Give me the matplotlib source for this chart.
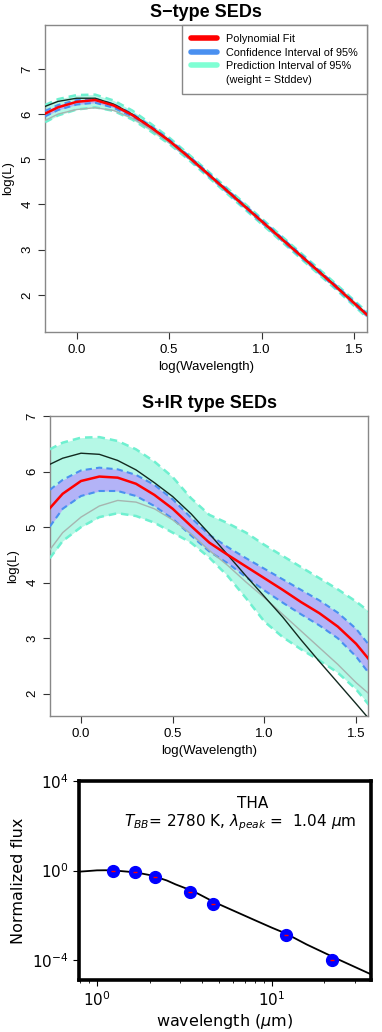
import numpy as np
import matplotlib
matplotlib.use("Agg")
import matplotlib.pyplot as plt
from matplotlib.lines import Line2D

# --- data ---
log_wave = [-0.17, -0.1, 0.0, 0.1, 0.2, 0.3, 0.4, 0.5, 0.6, 0.7, 0.8, 0.9, 1.0,
            1.1, 1.2, 1.3, 1.4, 1.5, 1.57]

# S-type SEDs
s_fit = [6.01, 6.15, 6.27, 6.31, 6.19, 5.98, 5.71, 5.41, 5.07, 4.71, 4.35, 3.99, 3.63,
         3.27, 2.91, 2.55, 2.19, 1.82, 1.56]
s_ci_hi = [6.07, 6.20, 6.31, 6.34, 6.22, 6.01, 5.74, 5.44, 5.10, 4.74, 4.38, 4.02, 3.66,
           3.30, 2.94, 2.58, 2.22, 1.85, 1.59]
s_ci_lo = [5.95, 6.09, 6.21, 6.25, 6.14, 5.94, 5.67, 5.38, 5.04, 4.68, 4.32, 3.96, 3.60,
           3.24, 2.88, 2.52, 2.16, 1.79, 1.53]
s_pi_hi = [6.20, 6.33, 6.42, 6.43, 6.30, 6.08, 5.79, 5.48, 5.13, 4.77, 4.41, 4.05, 3.69,
           3.33, 2.97, 2.61, 2.25, 1.88, 1.62]
s_pi_lo = [5.82, 5.97, 6.10, 6.15, 6.07, 5.88, 5.62, 5.34, 5.01, 4.65, 4.29, 3.93, 3.57,
           3.21, 2.85, 2.49, 2.13, 1.76, 1.50]
s_upper = [6.17, 6.28, 6.35, 6.35, 6.22, 6.00, 5.72, 5.42, 5.08, 4.72, 4.36, 4.00, 3.64,
           3.28, 2.92, 2.56, 2.20, 1.83, 1.57]
s_lower = [5.86, 6.00, 6.10, 6.14, 6.08, 5.91, 5.66, 5.37, 5.04, 4.69, 4.33, 3.97, 3.61,
           3.25, 2.89, 2.53, 2.17, 1.80, 1.54]

# S+IR type SEDs
ir_fit = [5.34, 5.60, 5.83, 5.91, 5.89, 5.78, 5.58, 5.33, 5.02, 4.72, 4.50, 4.29, 4.08,
          3.87, 3.65, 3.45, 3.21, 2.90, 2.62]
ir_ci_hi = [5.67, 5.85, 6.02, 6.07, 6.04, 5.94, 5.76, 5.50, 5.17, 4.86, 4.64, 4.44, 4.25,
            4.06, 3.87, 3.68, 3.46, 3.17, 2.88]
ir_ci_lo = [5.01, 5.33, 5.56, 5.65, 5.65, 5.56, 5.38, 5.15, 4.85, 4.56, 4.35, 4.10, 3.86,
            3.64, 3.43, 3.23, 3.00, 2.67, 2.37]
ir_pi_hi = [6.40, 6.52, 6.61, 6.62, 6.55, 6.40, 6.18, 5.90, 5.52, 5.22, 5.07, 4.90, 4.68,
            4.48, 4.28, 4.08, 3.88, 3.66, 3.48]
ir_pi_lo = [4.44, 4.75, 5.00, 5.18, 5.25, 5.20, 5.08, 4.90, 4.72, 4.45, 4.12, 3.72, 3.30,
            3.02, 2.80, 2.60, 2.38, 2.08, 1.80]
ir_upper = [6.13, 6.24, 6.33, 6.31, 6.20, 6.03, 5.80, 5.55, 5.24, 4.88, 4.50, 4.12, 3.75,
            3.38, 2.97, 2.58, 2.20, 1.82, 1.55]
ir_lower = [4.59, 4.90, 5.18, 5.38, 5.48, 5.45, 5.33, 5.13, 4.88, 4.58, 4.31, 4.01, 3.73,
            3.43, 3.13, 2.83, 2.53, 2.20, 2.00]

# THA photometry + blackbody
tha_wave = [1.235, 1.662, 2.159, 3.4, 4.6, 12.0, 22.0]
tha_flux = [1.0, 0.90, 0.51, 0.113, 0.033, 0.00138, 0.0001]
bb_wave = [0.79, 0.89, 1.0, 1.12, 1.26, 1.41, 1.66, 2.0, 2.19, 2.51, 2.82, 3.55, 4.68,
           6.31, 7.94, 10.0, 12.0, 15.8, 23.4, 36.5]
bb_flux = [0.89, 0.95, 1.02, 1.03, 1.0, 0.93, 0.83, 0.63, 0.51, 0.36, 0.24, 0.12, 0.039,
           0.0138, 0.0062, 0.0028, 0.00155, 0.0005, 0.000117, 0.000024]

RFONT = "Liberation Sans"
PI_FILL = "#b5f8e6"
PI_LINE = "#6ff0d0"
CI_FILL = "#b3b3f7"
CI_LINE = "#4a90f0"


def r_style(ax, title, xlim, ylim):
    ax.set_xlim(*xlim)
    ax.set_ylim(*ylim)
    for s in ax.spines.values():
        s.set_color("#888888")
        s.set_linewidth(1.0)
    ax.set_xticks([0.0, 0.5, 1.0, 1.5])
    ax.set_xticklabels(["0.0", "0.5", "1.0", "1.5"], family=RFONT, fontsize=9.5)
    ax.set_yticks([2, 3, 4, 5, 6, 7])
    ax.set_yticklabels(["2", "3", "4", "5", "6", "7"], family=RFONT, fontsize=9.5,
                       rotation=90, va="center")
    ax.tick_params(direction="out", length=5, width=0.8, color="#333333", pad=3.5)
    ax.set_title(title, family=RFONT, fontsize=13, fontweight="bold", pad=6)
    ax.set_xlabel("log(Wavelength)", family=RFONT, fontsize=9.5, labelpad=4)
    ax.set_ylabel("log(L)", family=RFONT, fontsize=9.5, labelpad=5)


def draw_sed(ax, fit, ci_hi, ci_lo, pi_hi, pi_lo, upper, lower):
    x = np.array(log_wave)
    ax.fill_between(x, pi_lo, pi_hi, color=PI_FILL, lw=0, zorder=1)
    ax.fill_between(x, ci_lo, ci_hi, color=CI_FILL, lw=0, zorder=2)
    ax.plot(x, pi_hi, color=PI_LINE, lw=1.8, ls=(0, (3, 2)), zorder=3)
    ax.plot(x, pi_lo, color=PI_LINE, lw=1.8, ls=(0, (3, 2)), zorder=3)
    ax.plot(x, ci_hi, color=CI_LINE, lw=1.5, ls=(0, (3, 2)), zorder=4)
    ax.plot(x, ci_lo, color=CI_LINE, lw=1.5, ls=(0, (3, 2)), zorder=4)
    ax.plot(x, lower, color="#a6b5b0", lw=1.0, zorder=5)
    ax.plot(x, upper, color="#122a20", lw=1.0, zorder=6)
    ax.plot(x, fit, color="#ff0000", lw=1.8, zorder=7)


fig = plt.figure(figsize=(3.82, 10.32), dpi=100)

# --- panel 1: S-type ---
ax1 = fig.add_axes([0.1178, 0.6783, 0.8429, 0.2975])
draw_sed(ax1, s_fit, s_ci_hi, s_ci_lo, s_pi_hi, s_pi_lo, s_upper, s_lower)
r_style(ax1, "S\u2212type SEDs", (-0.171, 1.57), (1.18, 7.97))
handles = [Line2D([], [], color="#ff0000", lw=4, solid_capstyle="round"),
           Line2D([], [], color="#4a90f0", lw=4, solid_capstyle="round"),
           Line2D([], [], color="#7fffd4", lw=4, solid_capstyle="round"),
           Line2D([], [], color="none", lw=0)]
labels = ["Polynomial Fit", "Confidence Interval of 95%", "Prediction Interval of 95%",
          "(weight = Stddev)"]
leg = ax1.legend(handles, labels, loc="upper right", borderaxespad=0,
                 prop={"family": RFONT, "size": 7.8}, fancybox=False,
                 edgecolor="#888888", framealpha=1, handlelength=2.4,
                 handletextpad=0.8, labelspacing=0.32, borderpad=0.85)
leg.get_frame().set_linewidth(1.0)

# --- panel 2: S+IR type ---
ax2 = fig.add_axes([0.1309, 0.3062, 0.8325, 0.2907])
draw_sed(ax2, ir_fit, ir_ci_hi, ir_ci_lo, ir_pi_hi, ir_pi_lo, ir_upper, ir_lower)
r_style(ax2, "S+IR type SEDs", (-0.169, 1.565), (1.6, 7.0))

# --- panel 3: THA blackbody ---
ax3 = fig.add_axes([0.2068, 0.0504, 0.7644, 0.1928])
ax3.plot(bb_wave, bb_flux, color="black", lw=1.3, zorder=2)
ax3.plot(tha_wave, tha_flux, "o", color="#0000ff", ms=8.5, mec="#0000ff", zorder=3)
ax3.plot(tha_wave, tha_flux, "_", color="#ff0000", ms=2.5, mew=1, zorder=4)
ax3.set_xscale("log")
ax3.set_yscale("log")
ax3.set_xlim(0.79, 36.9)
ax3.set_ylim(10 ** -4.89, 1e4)
ax3.set_yticks([1e-4, 1e0, 1e4])
ax3.yaxis.set_minor_locator(matplotlib.ticker.NullLocator())
for s in ax3.spines.values():
    s.set_linewidth(2.6)
    s.set_color("black")
ax3.tick_params(which="major", length=4, width=0.8, labelsize=11)
ax3.tick_params(which="minor", length=2, width=0.6)
ax3.set_xlabel("wavelength ($\\mu$m)", fontsize=11.5, labelpad=2)
ax3.set_ylabel("Normalized flux", fontsize=11.5, labelpad=4)
ax3.text(0.593, 0.863, "THA", transform=ax3.transAxes, ha="center", va="baseline",
         fontsize=11)
ax3.text(0.553, 0.770, "$T_{BB}$= 2780 K, $\\lambda_{peak}$ =  1.04 $\\mu$m",
         transform=ax3.transAxes, ha="center", va="baseline", fontsize=11)

fig.savefig("out.png", dpi=100)
